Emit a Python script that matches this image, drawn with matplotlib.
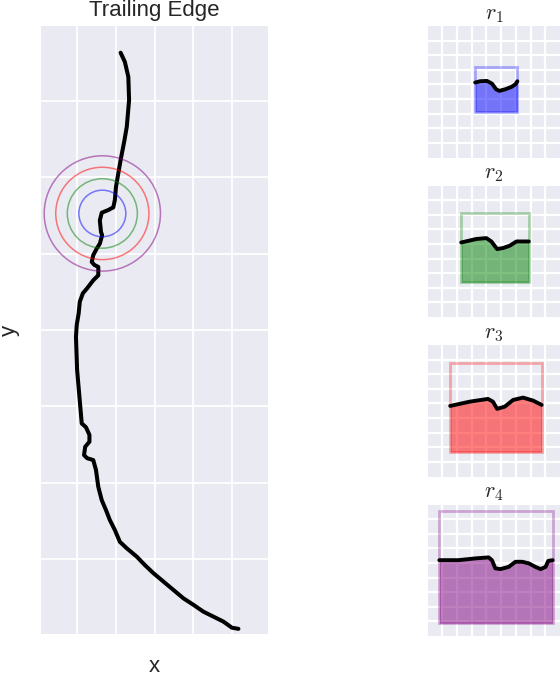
import matplotlib
matplotlib.use("Agg")
import matplotlib.pyplot as plt
from matplotlib.patches import Circle, Rectangle

plt.rcParams['font.family'] = ['Liberation Sans', 'DejaVu Sans']
plt.rcParams['mathtext.fontset'] = 'cm'

# ---- data ----
edge_x = [1.12, 1.23, 1.32, 1.34, 1.28, 1.22, 1.12, 1.06, 1.00, 0.97,
          0.93, 0.80, 0.63, 0.58, 0.61, 0.64, 0.58, 0.50, 0.41, 0.37,
          0.44, 0.54, 0.54, 0.41, 0.25, 0.14, 0.06, 0.03, -0.02, -0.04,
          -0.01, 0.05, 0.11, 0.22, 0.31, 0.31, 0.20, 0.17, 0.25, 0.41,
          0.48, 0.54, 0.63, 0.74, 0.84, 0.97, 1.10, 1.28, 1.54, 1.75,
          1.97, 2.23, 2.49, 2.75, 3.01, 3.27, 3.53, 3.79, 4.01, 4.18]
edge_y = [13.26, 13.02, 12.63, 12.02, 11.32, 10.97, 10.45, 10.10, 9.75, 9.40,
          9.21, 9.14, 9.07, 8.87, 8.57, 8.48, 8.26, 8.13, 7.96, 7.78,
          7.70, 7.65, 7.43, 7.30, 7.09, 6.96, 6.74, 6.43, 6.13, 5.82,
          4.95, 4.25, 3.55, 3.45, 3.25, 3.07, 2.94, 2.72, 2.64, 2.59,
          2.33, 1.89, 1.54, 1.28, 1.02, 0.76, 0.45, 0.28, 0.06, -0.16,
          -0.37, -0.59, -0.81, -1.03, -1.20, -1.38, -1.51, -1.64, -1.80, -1.83]

center = (0.645, 9.05)
radii = [0.61, 0.91, 1.21, 1.51]
colors = ['blue', 'green', 'red', 'purple']
labels = ['$r_1$', '$r_2$', '$r_3$', '$r_4$']

# inset boxes: (x0, x1, y0 (bottom), y1 (top)) in inset cell units
box_x0 = [3.23, 2.28, 1.53, 0.79]
box_x1 = [6.10, 6.88, 7.75, 8.50]
box_y0 = [3.12, 2.37, 1.67, 0.87]
box_y1 = [6.20, 7.11, 7.79, 8.54]

curve1_x = [3.23, 3.57, 4.03, 4.37, 4.65, 4.87, 5.28, 5.69, 5.97, 6.10]
curve1_y = [5.13, 5.22, 5.24, 5.06, 4.67, 4.56, 4.67, 4.83, 5.01, 5.22]
curve2_x = [2.28, 3.31, 3.99, 4.33, 4.72, 5.13, 5.58, 6.04, 6.88]
curve2_y = [5.10, 5.34, 5.40, 5.17, 4.65, 4.72, 4.88, 5.17, 5.17]
curve3_x = [1.53, 2.85, 4.10, 4.44, 4.72, 5.24, 5.81, 6.49, 7.18, 7.75]
curve3_y = [4.83, 5.12, 5.31, 5.12, 4.63, 4.78, 5.24, 5.40, 5.19, 4.90]
curve4_x = [0.79, 2.09, 3.23, 4.14, 4.37, 4.60, 4.94, 5.51, 5.97, 6.43,
            6.88, 7.33, 7.68, 8.02, 8.20, 8.50]
curve4_y = [5.19, 5.19, 5.31, 5.38, 5.19, 4.63, 4.58, 4.73, 5.08, 5.08,
            4.97, 4.73, 4.58, 4.73, 5.14, 5.19]
curves_x = [curve1_x, curve2_x, curve3_x, curve4_x]
curves_y = [curve1_y, curve2_y, curve3_y, curve4_y]

main_xticks = [0, 1, 2, 3, 4]
main_yticks = [0, 2, 4, 6, 8, 10, 12]
inset_ticks = [1, 2, 3, 4, 5, 6, 7, 8]

# ---- figure ----
W, H = 560, 676
fig = plt.figure(figsize=(W / 100, H / 100), dpi=100)
bg = '#EAEAF2'
txt = '#262626'

ax = fig.add_axes([41 / W, (H - 634) / H, 227 / W, 608 / H])
ax.set_facecolor(bg)
ax.set_axisbelow(True)
ax.grid(True, color='white', lw=1.3)
for s in ax.spines.values():
    s.set_visible(False)
ax.set_xticks(main_xticks)
ax.set_yticks(main_yticks)
ax.tick_params(length=0, labelbottom=False, labelleft=False)
ax.set_xlim(-0.948, 4.948)
ax.set_ylim(-1.965, 13.96)
ax.plot(edge_x, edge_y, color='black', lw=2.9, solid_capstyle='round',
        solid_joinstyle='round', zorder=3)
for r, c in zip(radii, colors):
    ax.add_patch(Circle(center, r, fill=False, edgecolor=c, alpha=0.5, lw=1.1, zorder=4))
ax.set_title('Trailing Edge', fontsize=16, color=txt, pad=7)
ax.set_xlabel('x', fontsize=16, color=txt, labelpad=16)
ax.set_ylabel('y', fontsize=16, color=txt, labelpad=15)

tops = [26, 185.5, 345, 504.5]
ih = 131.5
for i in range(4):
    iax = fig.add_axes([427.7 / W, (H - tops[i] - ih) / H, 132.3 / W, ih / H])
    iax.set_facecolor(bg)
    iax.set_axisbelow(True)
    iax.grid(True, color='white', lw=1.6)
    for s in iax.spines.values():
        s.set_visible(False)
    iax.set_xticks(inset_ticks)
    iax.set_yticks(inset_ticks)
    iax.tick_params(length=0, labelbottom=False, labelleft=False)
    iax.set_xlim(0, 9)
    iax.set_ylim(0, 9)
    c = colors[i]
    iax.fill_between(curves_x[i], box_y0[i], curves_y[i], color=c, alpha=0.5, lw=0, zorder=2)
    iax.add_patch(Rectangle((box_x0[i], box_y0[i]), box_x1[i] - box_x0[i],
                            box_y1[i] - box_y0[i], fill=False, edgecolor=c,
                            alpha=0.3, lw=2.0, zorder=3))
    iax.plot(curves_x[i], curves_y[i], color='black', lw=2.8,
             solid_joinstyle='round', solid_capstyle='round', zorder=4)
    iax.set_title(labels[i], fontsize=16, color=txt, pad=5)

fig.savefig('out.png', dpi=100, facecolor='white')
